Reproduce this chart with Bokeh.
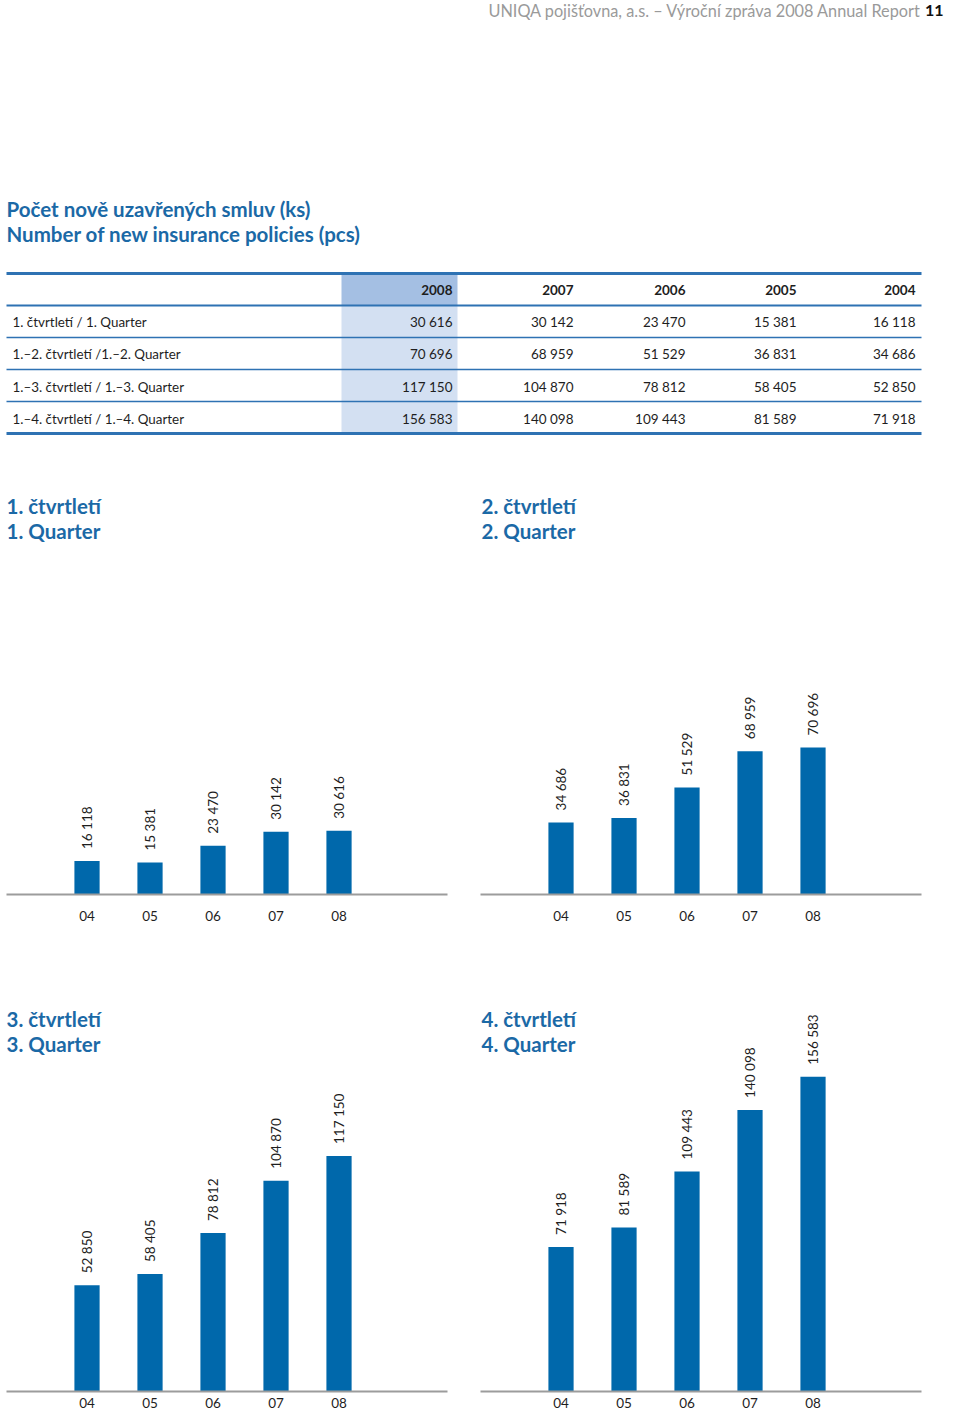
import math
from bokeh.plotting import figure
from bokeh.models import Range1d, FixedTicker, Label
from bokeh.layouts import column, row
from bokeh.embed import file_html
from bokeh.resources import INLINE
from bokeh.core.properties import value

# ---------------- data ----------------
header_text = "UNIQA pojišťovna, a.s. – Výroční zpráva 2008 Annual Report"
page_number = "11"
title_cz = "Počet nově uzavřených smluv (ks)"
title_en = "Number of new insurance policies (pcs)"

table_years = ["2008", "2007", "2006", "2005", "2004"]
row_labels = [
    "1. čtvrtletí / 1. Quarter",
    "1.–2. čtvrtletí /1.–2. Quarter",
    "1.–3. čtvrtletí / 1.–3. Quarter",
    "1.–4. čtvrtletí / 1.–4. Quarter",
]
v2008 = [30616, 70696, 117150, 156583]
v2007 = [30142, 68959, 104870, 140098]
v2006 = [23470, 51529, 78812, 109443]
v2005 = [15381, 36831, 58405, 81589]
v2004 = [16118, 34686, 52850, 71918]

chart_years = ["04", "05", "06", "07", "08"]
quarter_titles_cz = ["1. čtvrtletí", "2. čtvrtletí", "3. čtvrtletí", "4. čtvrtletí"]
quarter_titles_en = ["1. Quarter", "2. Quarter", "3. Quarter", "4. Quarter"]

# ---------------- style ----------------
FONT = "Lato"
TITLE_BLUE = "#1b69a6"
BAR_BLUE = "#0068ab"
LINE_BLUE = "#2e72b3"
HEAD_CELL = "#a4bfe3"
BODY_CELL = "#d3e0f2"
GRAY = "#9c9c9c"
TEXT = "#1e1e1e"


def fmt(v):
    return f"{v:,}".replace(",", " ")


table_values = [v2008, v2007, v2006, v2005, v2004]

# ---------------- header + table ----------------
hdr = figure(width=944, height=470, x_range=Range1d(0, 944), y_range=Range1d(470, 0),
             output_backend="svg", toolbar_location=None,
             x_axis_location=None, y_axis_location=None, min_border=0)
hdr.outline_line_color = None
hdr.grid.visible = False

hdr.text(x=[921], y=[10], text=[header_text], text_font=value(FONT), text_font_size="16.3px",
         text_align="right", text_baseline="middle", text_color="#9a9a9a")
hdr.text(x=[943], y=[10], text=[page_number], text_font=value(FONT), text_font_size="16px",
         text_font_style="bold", text_align="right", text_baseline="middle", text_color="#111111")

hdr.text(x=[6, 6], y=[208, 233], text=[title_cz, title_en], text_font=value(FONT),
         text_font_size="20.5px", text_font_style="bold", text_align="left",
         text_baseline="middle", text_color=TITLE_BLUE)

col_right = [452, 573, 685, 796, 915]
row_y = [321, 353, 386, 418]
head_y = 289

# highlighted 2008 column
hdr.quad(left=[341], right=[457], top=[274.5], bottom=[304.5], fill_color=HEAD_CELL, line_color=None)
hdr.quad(left=[341], right=[457], top=[305.5], bottom=[432], fill_color=BODY_CELL, line_color=None)

# table rules
rule_y = [273, 305, 337, 369, 401, 433]
rule_w = [3, 2, 1.3, 1.3, 1.3, 3]
hdr.segment(x0=[6] * len(rule_y), x1=[921] * len(rule_y), y0=rule_y, y1=rule_y,
            line_width=rule_w, line_color=LINE_BLUE)

hdr.text(x=col_right, y=[head_y] * len(table_years), text=table_years, text_font=value(FONT),
         text_font_size="13.5px", text_font_style="bold", text_align="right",
         text_baseline="middle", text_color=TEXT)
hdr.text(x=[12] * len(row_labels), y=row_y, text=row_labels, text_font=value(FONT),
         text_font_size="13.4px", text_align="left", text_baseline="middle", text_color=TEXT)
for j, vals in enumerate(table_values):
    hdr.text(x=[col_right[j]] * len(vals), y=row_y, text=[fmt(v) for v in vals],
             text_font=value(FONT), text_font_size="13.5px", text_align="right",
             text_baseline="middle", text_color=TEXT)


# ---------------- quarter bar charts ----------------
def make_chart(q, left, height, bottom_border, y_end, standoff, title_y):
    vals = [v2004[q], v2005[q], v2006[q], v2007[q], v2008[q]]
    idx = list(range(len(chart_years)))
    if left:
        width, mbl, mbr, tx = 480, 6, 33, 0
    else:
        width, mbl, mbr, tx = 464, 0, 23, 1
    p = figure(width=width, height=height, x_range=Range1d(-1.278, 5.722),
               y_range=Range1d(0, y_end),
               output_backend="svg", toolbar_location=None, y_axis_location=None,
               min_border_left=mbl, min_border_right=mbr, min_border_top=0,
               min_border_bottom=bottom_border)
    p.outline_line_color = None
    p.grid.visible = False
    p.vbar(x=idx, top=vals, bottom=0, width=0.4, fill_color=BAR_BLUE, line_color=None)
    p.text(x=idx, y=vals, text=[fmt(v) for v in vals], angle=math.pi / 2,
           text_align="left", text_baseline="middle", y_offset=-12,
           text_font=value(FONT), text_font_size="13.5px", text_color=TEXT)
    ax = p.xaxis[0]
    ax.ticker = FixedTicker(ticks=idx)
    ax.major_label_overrides = {i: y for i, y in zip(idx, chart_years)}
    ax.major_tick_out = 0
    ax.major_tick_in = 0
    ax.minor_tick_out = 0
    ax.minor_tick_in = 0
    ax.axis_line_color = GRAY
    ax.axis_line_width = 2
    ax.major_label_standoff = standoff
    ax.major_label_text_font = FONT
    ax.major_label_text_font_size = "13.5px"
    ax.major_label_text_color = TEXT
    for k, t in enumerate([quarter_titles_cz[q], quarter_titles_en[q]]):
        p.add_layout(Label(x=tx, y=title_y - 25 * k, x_units="screen", y_units="screen",
                           text=t, text_font=FONT, text_font_size="20.5px",
                           text_font_style="bold", text_color=TITLE_BLUE,
                           text_baseline="middle", text_align="left"))
    return p


q1 = make_chart(0, True, 500, 76, 204000, 16, 389)
q2 = make_chart(1, False, 500, 76, 204000, 16, 389)
q3 = make_chart(2, True, 441, 20, 209450, 6, 373)
q4 = make_chart(3, False, 441, 20, 209450, 6, 373)

layout = column(hdr, row(q1, q2, spacing=0), row(q3, q4, spacing=0), spacing=0)

open("out.html", "w").write(file_html(layout, INLINE))
